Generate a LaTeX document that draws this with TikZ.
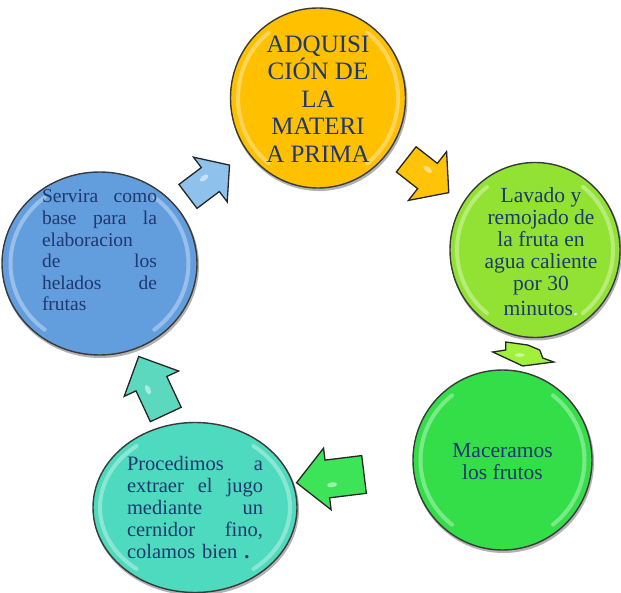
\documentclass[tikz,border=0pt]{standalone}
\usepackage{fontspec}
\setmainfont{Liberation Serif}
\usetikzlibrary{shapes.geometric,calc,backgrounds}

\definecolor{ink}{RGB}{31,56,110}
\definecolor{rim}{RGB}{58,58,58}
\definecolor{ballyellow}{RGB}{255,192,0}
\definecolor{balllime}{RGB}{146,226,52}
\definecolor{ballgreen}{RGB}{52,222,72}
\definecolor{ballteal}{RGB}{78,218,190}
\definecolor{ballblue}{RGB}{98,158,222}
\definecolor{arryellow}{RGB}{255,196,10}
\definecolor{arrlime}{RGB}{160,240,60}
\definecolor{arrgreen}{RGB}{62,228,88}
\definecolor{arrteal}{RGB}{92,216,190}
\definecolor{arrblue}{RGB}{142,194,236}

\tikzset{
  ball/.style={ellipse, inner sep=0pt, draw=rim, line width=1.4pt},
  label text/.style={text=ink, inner sep=0pt},
  arrowbody/.style={draw=black!85, line width=1.3pt, line join=miter},
  pics/blockarrow/.style n args={4}{code={
    \path[pic actions] (-#1/2,-#4) -- (#1/2-#2,-#4) -- (#1/2-#2,-#3) -- (#1/2,0)
      -- (#1/2-#2,#3) -- (#1/2-#2,#4) -- (-#1/2,#4) -- cycle;
    \fill[white, opacity=.5] (#1/2-#2-4,-#4/3) ellipse [x radius=5pt, y radius=2.5pt];
  }},
}

% light rim on the left and right inside a ball
\newcommand\glossrim[3]{%
  \draw[white, opacity=.35, line width=4pt, line cap=round]
    ($(#1.center)+(128:#2pt and #3pt)$) arc[start angle=128, end angle=232, x radius=#2pt, y radius=#3pt]
    ($(#1.center)+(-52:#2pt and #3pt)$) arc[start angle=-52, end angle=52, x radius=#2pt, y radius=#3pt];
}
% a justified line: words separated by \hfill, spread over the given width
\newcommand\spreadline[2]{\hbox to #1{#2}}

\begin{document}
\begin{tikzpicture}[x=1pt, y=-1pt]
\useasboundingbox (0,0) rectangle (621,593);

% the five stages
\node[ball, fill=ballyellow, minimum width=175pt, minimum height=180pt] (c1) at (318,98) {};
\node[ball, fill=balllime, minimum width=170pt, minimum height=175pt] (c2) at (535,250) {};
\node[ball, fill=ballgreen, minimum width=179pt, minimum height=180pt] (c3) at (502.5,460) {};
\node[ball, fill=ballteal, minimum width=204pt, minimum height=170pt] (c4) at (195,507.5) {};
\node[ball, fill=ballblue, minimum width=195pt, minimum height=183pt] (c5) at (99.5,263.5) {};

\begin{scope}[on background layer]
  \fill[black, opacity=.3] ($(c1.center)+(1,2)$) ellipse [x radius=88.5pt, y radius=91pt];
  \fill[black, opacity=.3] ($(c2.center)+(1,2)$) ellipse [x radius=86pt, y radius=88.5pt];
  \fill[black, opacity=.3] ($(c3.center)+(1,2)$) ellipse [x radius=90.5pt, y radius=91pt];
  \fill[black, opacity=.3] ($(c4.center)+(1,2)$) ellipse [x radius=103pt, y radius=86pt];
  \fill[black, opacity=.3] ($(c5.center)+(1,2)$) ellipse [x radius=98.5pt, y radius=92.5pt];
\end{scope}

\glossrim{c1}{80}{83}
\glossrim{c2}{78}{80}
\glossrim{c3}{82}{82}
\glossrim{c4}{95}{78}
\glossrim{c5}{89}{84}

% block arrows between consecutive stages
\pic (a1) [arrowbody, fill=arryellow, rotate=-38] at ($(c1)!0.5!(c2)+(1,2)$) {blockarrow={54}{27}{31}{16}};
\coordinate (a2) at ($(c2)!0.5!(c3)+(3,-1)$);
\begin{scope}[shift={(a2)}]
  \draw[arrowbody, fill=arrlime] (-16,-12) -- (6,-9) -- (18,-4) -- (21,4) -- (32,8)
    -- (1,12) -- (-29,-2) -- (-16,-4) -- cycle;
  \fill[white, opacity=.5] (-2,1) ellipse [x radius=5pt, y radius=1.8pt];
\end{scope}
\pic (a3) [arrowbody, fill=arrgreen, rotate=187] at ($(c3)!0.56!(c4)+(0,-8)$) {blockarrow={68}{31}{31}{19}};
\pic (a4) [arrowbody, fill=arrteal, rotate=115] at ($(c4)!0.5!(c5)+(5,0)$) {blockarrow={64}{30}{30}{17}};
\pic (a5) [arrowbody, fill=arrblue, rotate=37] at ($(c5)!0.5!(c1)$) {blockarrow={52}{24}{28}{15}};

% texts
\node[label text, align=center, font=\fontsize{25}{27.5}\selectfont] (t1) at ($(c1)+(0,1)$)
  {ADQUISI\\CIÓN DE\\LA\\MATERI\\A PRIMA};
\node[label text, align=center, font=\fontsize{21.5}{22}\selectfont] (t2) at ($(c2)+(6,2)$)
  {Lavado y\\remojado de\\la fruta en\\agua caliente\\por 30\\[3pt]minutos\textcolor{white}{.}};
\node[label text, align=center, font=\fontsize{21.5}{22}\selectfont] (t3) at ($(c3)+(0,2)$)
  {Maceramos\\los frutos};
\node[label text, align=left, text width=136pt, font=\fontsize{20.5}{22}\selectfont] (t4) at ($(c4)+(0,3)$)
  {\spreadline{136pt}{Procedimos\hfill a}
   \spreadline{136pt}{extraer\hfill el\hfill jugo}
   \spreadline{136pt}{mediante\hfill un}
   \spreadline{136pt}{cernidor\hfill fino,}
   \vspace{6pt}
   colamos bien {\bfseries .}};
\node[label text, align=left, text width=115pt, font=\fontsize{19.5}{21.6}\selectfont] (t5) at ($(c5)+(0,-13)$)
  {\spreadline{115pt}{Servira\hfill como}
   \spreadline{115pt}{base\hfill para\hfill la}
   elaboracion\\
   \spreadline{115pt}{de\hfill los}
   \spreadline{115pt}{helados\hfill de}
   frutas};
\end{tikzpicture}
\end{document}
